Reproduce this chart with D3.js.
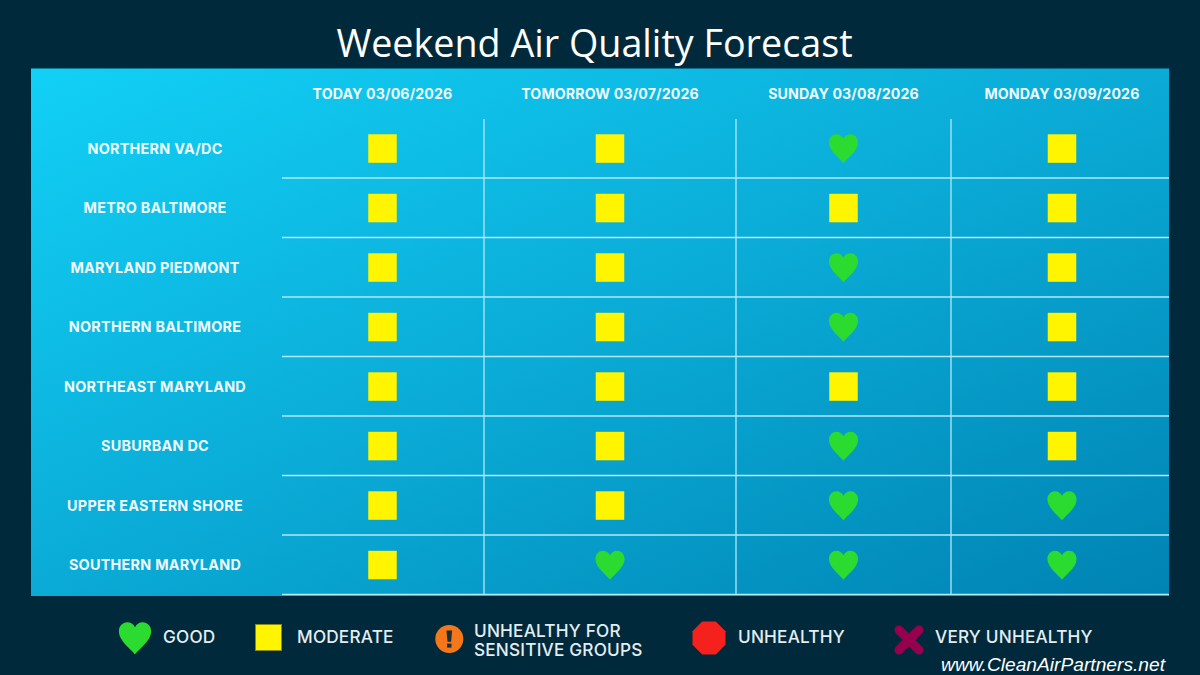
<!DOCTYPE html>
<html><head><meta charset="utf-8">
<script src="https://cdn.jsdelivr.net/npm/d3@7"></script>
<style>
html,body{margin:0;padding:0;background:#002a3b;overflow:hidden}
svg{display:block}
text{font-family:Inter,"Open Sans",sans-serif}
</style></head><body>
<svg id="c" width="1200" height="675"></svg>
<script>
const titleText = "Weekend Air Quality Forecast";
const footerText = "www.CleanAirPartners.net";
const days = ["TODAY 03/06/2026","TOMORROW 03/07/2026","SUNDAY 03/08/2026","MONDAY 03/09/2026"];
const regions = ["NORTHERN VA/DC","METRO BALTIMORE","MARYLAND PIEDMONT","NORTHERN BALTIMORE","NORTHEAST MARYLAND","SUBURBAN DC","UPPER EASTERN SHORE","SOUTHERN MARYLAND"];
const todayLevels    = ["moderate","moderate","moderate","moderate","moderate","moderate","moderate","moderate"];
const tomorrowLevels = ["moderate","moderate","moderate","moderate","moderate","moderate","moderate","good"];
const sundayLevels   = ["good","moderate","good","good","moderate","good","good","good"];
const mondayLevels   = ["moderate","moderate","moderate","moderate","moderate","moderate","good","good"];
const levelsByDay = [todayLevels,tomorrowLevels,sundayLevels,mondayLevels];
const legendKeys = ["good","moderate","usg","unhealthy","veryUnhealthy"];
const legendLabels = [["GOOD"],["MODERATE"],["UNHEALTHY FOR","SENSITIVE GROUPS"],["UNHEALTHY"],["VERY UNHEALTHY"]];

const svg = d3.select("#c");
const defs = svg.append("defs");
const grad = defs.append("linearGradient").attr("id","panel")
  .attr("x1",0).attr("y1",0).attr("x2",1).attr("y2",1);
grad.append("stop").attr("offset",0).attr("stop-color","#12d0f6");
grad.append("stop").attr("offset",0.5).attr("stop-color","#0aabd6");
grad.append("stop").attr("offset",1).attr("stop-color","#0083b3");

const W=1200,H=675;
svg.append("rect").attr("width",W).attr("height",H).attr("fill","#002a3b");
svg.append("rect").attr("x",31).attr("y",68.5).attr("width",1138).attr("height",527.5).attr("fill","url(#panel)");

svg.append("text").attr("x",594.5).attr("y",57).attr("text-anchor","middle")
  .attr("font-size",37.7).attr("fill","#fff").style("font-family","'Open Sans'").text(titleText);

const colEdges = [282,484,736,951,1169];
const colCenters = [382.5,610,843.5,1062];
const x = d3.scaleOrdinal().domain(days).range(colCenters);
const y = d3.scaleBand().domain(regions).range([118.5,594.5]);
const labelX = 155;

const grid = svg.append("g").attr("stroke","#aeeafb");
grid.selectAll("line.h").data(regions).join("line").attr("class","h")
  .attr("x1",colEdges[0]).attr("x2",colEdges[4])
  .attr("y1",d=>y(d)+y.step()).attr("y2",d=>y(d)+y.step()).attr("stroke-width",1.5);
grid.selectAll("line.v").data(colEdges.slice(1,4)).join("line").attr("class","v")
  .attr("x1",d=>d).attr("x2",d=>d).attr("y1",119).attr("y2",595).attr("stroke-width",1.3);

svg.append("g").selectAll("text").data(days).join("text")
  .attr("x",x).attr("y",93.5).attr("dy","0.36em").attr("text-anchor","middle")
  .attr("font-size",14.2).attr("letter-spacing",0.12).attr("font-weight",700).attr("fill","#eefaff").text(d=>d);
svg.append("g").selectAll("text").data(regions).join("text")
  .attr("x",labelX).attr("y",d=>y(d)+y.bandwidth()/2+0.5).attr("dy","0.36em").attr("text-anchor","middle")
  .attr("font-size",14.4).attr("letter-spacing",0.25).attr("font-weight",700).attr("fill","#eefaff").text(d=>d);

const heart = s => { const k=s/29; const p=(a,b)=>`${a*k},${b*k}`;
  return `M${p(0,14.8)}C${p(-3,10.5)} ${p(-14.6,2.5)} ${p(-14.6,-6)}C${p(-14.6,-11)} ${p(-11,-14.2)} ${p(-7,-14.2)}C${p(-4,-14.2)} ${p(-1.5,-12.5)} ${p(0,-9.8)}C${p(1.5,-12.5)} ${p(4,-14.2)} ${p(7,-14.2)}C${p(11,-14.2)} ${p(14.6,-11)} ${p(14.6,-6)}C${p(14.6,2.5)} ${p(3,10.5)} ${p(0,14.8)}Z`; };

const drawers = {
  good:(g,s)=>g.append("path").attr("d",heart(s)).attr("fill","#2bdb2f"),
  moderate:(g,s,legend)=>g.append("rect").attr("x",-s/2).attr("y",-s/2).attr("width",s).attr("height",s)
     .attr("fill","#fff500").attr("stroke",legend?"#8a8a10":"none").attr("stroke-width",legend?1:0),
  usg:(g,s)=>{ g.append("circle").attr("r",s/2).attr("fill","#f4771a");
     g.append("path").attr("d","M-2.8,-8.5H2.8L1.8,2.8H-1.8Z").attr("fill","#152f3c");
     g.append("rect").attr("x",-2.2).attr("y",4.6).attr("width",4.4).attr("height",4).attr("fill","#152f3c"); },
  unhealthy:(g,s)=>{ const r=s/2/Math.cos(Math.PI/8);
     g.append("path").attr("d",d3.line()(d3.range(8).map(i=>[r*Math.cos(Math.PI/8+i*Math.PI/4),r*Math.sin(Math.PI/8+i*Math.PI/4)]))+"Z").attr("fill","#f5211c"); },
  veryUnhealthy:(g,s)=>{ const a=s/2-4.5;
     g.append("path").attr("d",`M${-a},${-a}L${a},${a}M${a},${-a}L${-a},${a}`).attr("stroke","#98004f").attr("stroke-width",9).attr("stroke-linecap","round").attr("fill","none"); }
};
const legendSize = {good:32,moderate:26,usg:28,unhealthy:33,veryUnhealthy:29};

const cells = days.flatMap((day,i)=>regions.map((r,j)=>({day,r,level:levelsByDay[i][j]})));
svg.append("g").selectAll("g").data(cells).join("g")
  .attr("transform",d=>`translate(${x(d.day)},${y(d.r)+y.bandwidth()/2+0.3})`)
  .each(function(d){ drawers[d.level](d3.select(this), d.level==="good"?29:28.5, false); });

const legendX = d3.scaleOrdinal().domain(legendKeys).range([135,268.5,449.3,709,909]);
const legendTextX = d3.scaleOrdinal().domain(legendKeys).range([163,297,474,738,935]);
const legendY = d3.scaleOrdinal().domain(legendKeys).range([638,637.5,639,638,640]);
const leg = svg.append("g").selectAll("g").data(legendKeys).join("g");
leg.each(function(k,i){
  const g=d3.select(this);
  const m=g.append("g").attr("transform",`translate(${legendX(k)},${legendY(k)})`);
  drawers[k](m,legendSize[k],true);
  const lines=legendLabels[i];
  const mid = lines.length>1 ? 640.5 : 636.5;
  g.selectAll("text").data(lines).join("text")
    .attr("x",legendTextX(k)).attr("y",(d,n)=>mid+(n-(lines.length-1)/2)*19.5).attr("dy","0.36em")
    .attr("font-size",17.2).attr("letter-spacing",0.2).attr("font-weight",500).attr("fill","#e4eef2").text(d=>d);
});

svg.append("text").attr("x",1165).attr("y",671).attr("text-anchor","end")
  .attr("font-size",19.2).attr("font-style","italic").attr("fill","#fff").style("font-family","'Liberation Sans'").text(footerText);
</script>
</body></html>
